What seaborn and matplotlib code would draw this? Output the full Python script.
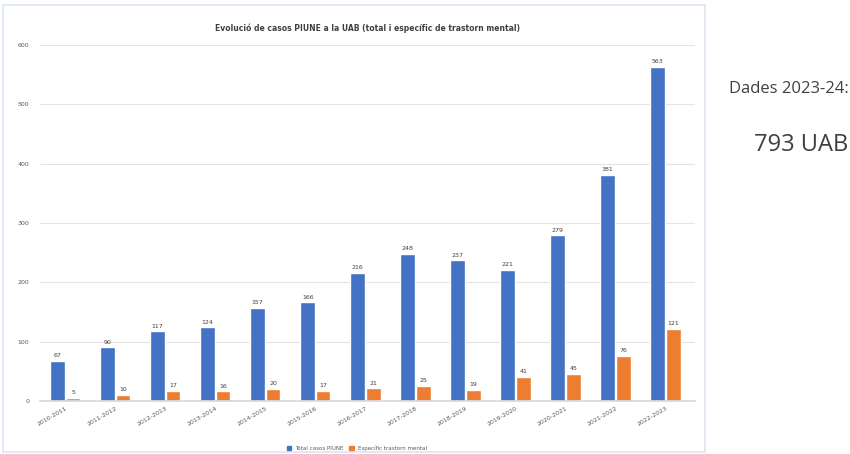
import matplotlib
matplotlib.use("Agg")
import matplotlib.pyplot as plt
import seaborn as sns
import pandas as pd
from matplotlib.patches import Rectangle, Patch

categories = ["2010-2011", "2011-2012", "2012-2013", "2013-2014", "2014-2015", "2015-2016",
              "2016-2017", "2017-2018", "2018-2019", "2019-2020", "2020-2021", "2021-2022",
              "2022-2023"]
total_cases = [67, 90, 117, 124, 157, 166, 216, 248, 237, 221, 279, 381, 563]
mental_cases = [5, 10, 17, 16, 20, 17, 21, 25, 19, 41, 45, 76, 121]
series_names = ["Total casos PIUNE", "Específic trastorn mental"]
y_ticks = [0, 100, 200, 300, 400, 500, 600]

df = pd.DataFrame({
    "curs": categories * 2,
    "casos": total_cases + mental_cases,
    "serie": [series_names[0]] * len(categories) + [series_names[1]] * len(categories),
})

sns.set_theme(style="white")
plt.rcParams['font.family'] = ['DejaVu Sans']

fig = plt.figure(figsize=(8.5, 4.54), dpi=100)
ax = fig.add_axes([0.0476, 0.117, 0.7706, 0.784])

sns.barplot(data=df, x="curs", y="casos", hue="serie", order=categories,
            palette=["#4472C4", "#ED7D31"], saturation=1, width=0.62, gap=0.06, ax=ax,
            legend=False)

for cont in ax.containers:
    ax.bar_label(cont, fmt="%d", fontsize=4.5, color="#404040", padding=2)

ax.set_ylim(0, 600)
ax.set_yticks(y_ticks)
ax.set_yticklabels([str(t) for t in y_ticks], fontsize=4.5, color="#595959")
ax.yaxis.grid(True, color="#E4E4E4", linewidth=0.8)
ax.set_axisbelow(True)
ax.tick_params(axis="x", labelsize=4.5, labelcolor="#595959", rotation=30, length=0)
ax.tick_params(axis="y", length=0, pad=8)
for lab in ax.get_xticklabels():
    lab.set_ha("right")
    lab.set_rotation_mode("anchor")
ax.set_xlabel("")
ax.set_ylabel("")
for s in ["top", "right", "left"]:
    ax.spines[s].set_visible(False)
ax.spines["bottom"].set_color("#D9D9D9")
ax.set_xlim(-0.5, len(categories) - 0.4)

ax.set_title("Evolució de casos PIUNE a la UAB (total i específic de trastorn mental)",
             fontsize=5.5, color="#404040", fontweight="bold", pad=10)

handles = [Patch(color="#4472C4"), Patch(color="#ED7D31")]
fig.legend(handles, series_names, loc="lower center", bbox_to_anchor=(0.42, -0.005),
           ncol=2, frameon=False, fontsize=4, handlelength=0.8, handleheight=0.8,
           labelcolor="#595959", columnspacing=1.0)

fig.patches.append(Rectangle((0.004, 0.005), 0.826, 0.985, transform=fig.transFigure,
                             fill=False, edgecolor="#DCE6F2", linewidth=1.2))

fig.text(0.998, 0.805, "Dades 2023-24:", ha="right", va="center", fontsize=12,
         color="#404040", family=["Open Sans", "DejaVu Sans"])
fig.text(0.998, 0.68, "793 UAB", ha="right", va="center", fontsize=17,
         color="#404040", family=["Open Sans", "DejaVu Sans"])

fig.savefig("out.png", dpi=100)
